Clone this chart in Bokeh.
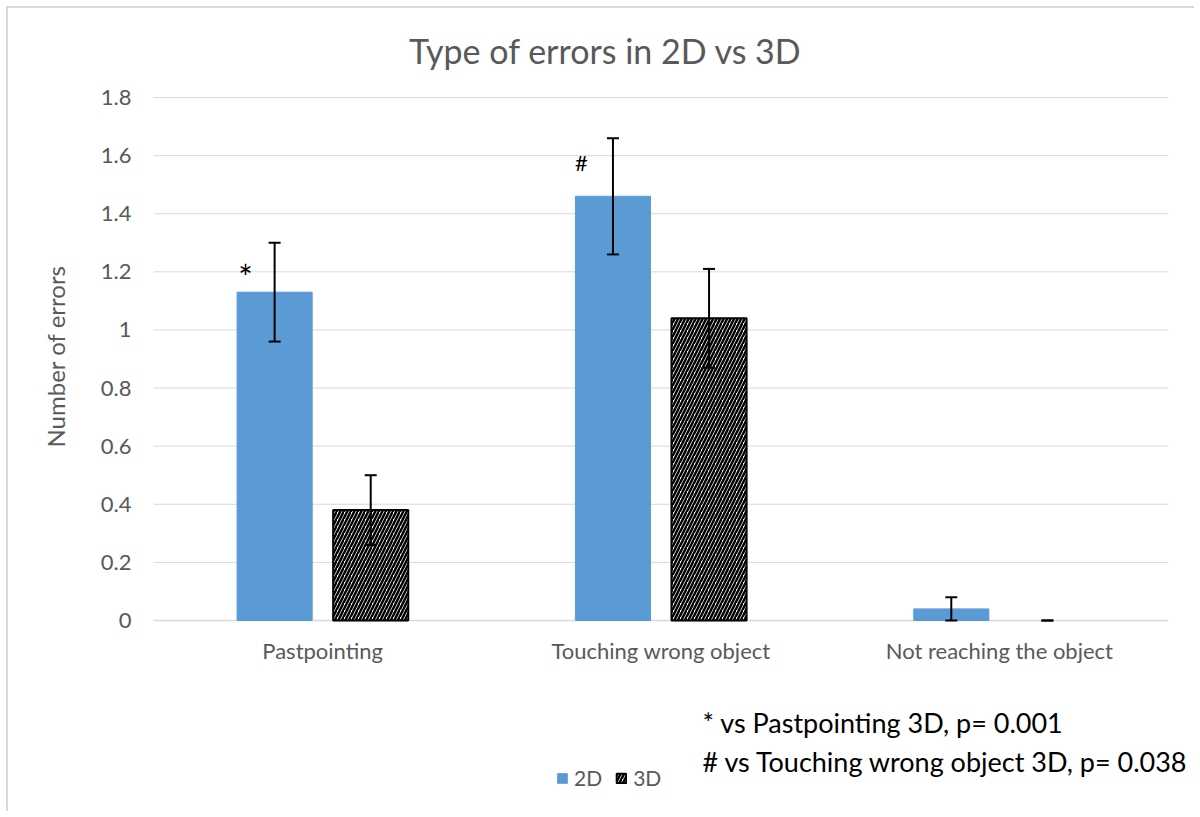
from bokeh.plotting import figure
from bokeh.models import (ColumnDataSource, Whisker, TeeHead, Label, Legend, LegendItem,
                          FixedTicker, Range1d, Title)
from bokeh.core.properties import value
from bokeh.embed import file_html
from bokeh.resources import INLINE

categories = ["Pastpointing", "Touching wrong object", "Not reaching the object"]
values_2d = [1.13, 1.46, 0.04]
err_low_2d = [0.96, 1.26, 0.0]
err_high_2d = [1.30, 1.66, 0.08]
values_3d = [0.38, 1.04, 0.0]
err_low_3d = [0.26, 0.87, 0.0]
err_high_3d = [0.50, 1.21, 0.0]
y_ticks = [0, 0.2, 0.4, 0.6, 0.8, 1.0, 1.2, 1.4, 1.6, 1.8]
y_tick_labels = ["0", "0.2", "0.4", "0.6", "0.8", "1", "1.2", "1.4", "1.6", "1.8"]
title_text = "Type of errors in 2D vs 3D"
y_label = "Number of errors"
series_names = ["2D", "3D"]
notes = ["* vs Pastpointing 3D, p= 0.001", "# vs Touching wrong object 3D, p= 0.038"]

FONT = "Lato"
GRAY = "#595959"
BLUE = "#5b9bd5"
GRID = "#d9d9d9"

# ---- layout geometry (page pixels) ----
W, H = 1188, 805
ORG_X, ORG_Y = 8, 8
PX_L, PX_R = 153, 1168          # category area columns
PX_Y0, PX_YMAX = 620, 97        # value 0 and value 1.8
MB_TOP = 4
frame_top = ORG_Y + MB_TOP
frame_bot = ORG_Y + H
frame_right = ORG_X + W
ppu_y = (PX_Y0 - PX_YMAX) / 1.8
ppu_x = (PX_R - PX_L) / 3.0


def dy(py):
    return (PX_Y0 - py) / ppu_y


def dx(px):
    return (px - PX_L) / ppu_x


n = len(categories)
centers = [i + 0.5 for i in range(n)]
off = 0.142
bw = 0.222

src2 = ColumnDataSource(dict(x=[c - off for c in centers], top=values_2d,
                             lo=err_low_2d, hi=err_high_2d))
src3 = ColumnDataSource(dict(x=[c + off for c in centers], top=values_3d,
                             lo=err_low_3d, hi=err_high_3d,
                             lc=["black" if v > 0 else None for v in values_3d]))

p = figure(width=W, height=H, x_range=Range1d(0, dx(frame_right)),
           y_range=Range1d(dy(frame_bot), dy(frame_top)),
           output_backend="svg", toolbar_location=None, x_axis_location=None,
           min_border_left=PX_L - ORG_X, min_border_right=0,
           min_border_top=MB_TOP, min_border_bottom=0)
p.styles = {"border-left": "2px solid #d9d9d9", "border-top": "2px solid #d9d9d9",
            "margin-left": "6px", "margin-top": "6px"}
p.outline_line_color = None
p.background_fill_color = "white"
p.border_fill_color = "white"
p.xgrid.visible = False
p.ygrid.visible = False

# horizontal gridlines across the category area only
grid_ticks = y_ticks[1:]
p.segment(x0=[0] * len(grid_ticks), x1=[n] * len(grid_ticks), y0=grid_ticks,
          y1=grid_ticks, line_color=GRID, line_width=1)
# category axis line at zero
p.segment(x0=[0], x1=[n], y0=[0], y1=[0], line_color=GRID, line_width=1.5)

r2 = p.vbar(x="x", top="top", width=bw, source=src2, fill_color=BLUE,
            line_color=BLUE, line_width=1)
r3 = p.vbar(x="x", top="top", width=bw, source=src3, fill_color="white",
            line_color="lc", line_width=2, hatch_pattern="/",
            hatch_color="black", hatch_scale=7, hatch_weight=2.5)

for s in (src2, src3):
    w = Whisker(source=s, base="x", lower="lo", upper="hi", line_color="black",
                line_width=2, level="overlay",
                upper_head=TeeHead(size=12, line_color="black", line_width=2),
                lower_head=TeeHead(size=12, line_color="black", line_width=2))
    p.add_layout(w)

# y axis
p.yaxis.ticker = FixedTicker(ticks=y_ticks)
p.yaxis.major_label_overrides = {t: l for t, l in zip(y_ticks, y_tick_labels)}
p.yaxis.axis_line_color = None
p.yaxis.major_tick_line_color = None
p.yaxis.major_tick_out = 0
p.yaxis.major_tick_in = 0
p.yaxis.minor_tick_line_color = None
p.yaxis.major_label_text_font = FONT
p.yaxis.major_label_text_font_size = "22px"
p.yaxis.major_label_text_color = GRAY
p.yaxis.major_label_standoff = 22

p.add_layout(Title(text=y_label, align="left", offset=frame_bot - 447,
                   text_font=FONT, text_font_size="24px", text_font_style="normal",
                   text_color=GRAY, standoff=56), "left")

# category labels
p.text(x=centers, y=[dy(650)] * n, text=categories, text_align="center",
       text_baseline="middle", text_font=value(FONT), text_font_size="22px",
       text_color=GRAY)

# title
p.add_layout(Label(x=dx(605), y=dy(50), text=title_text, text_align="center",
                   text_baseline="middle", text_font=FONT, text_font_size="34px",
                   text_color=GRAY))

# significance markers
p.add_layout(Label(x=dx(245), y=dy(276), text="*", text_align="center",
                   text_baseline="middle", text_font=FONT, text_font_size="34px",
                   text_color="black"))
p.add_layout(Label(x=dx(581), y=dy(162), text="#", text_align="center",
                   text_baseline="middle", text_font=FONT, text_font_size="22px",
                   text_color="black"))

# notes
for i, t in enumerate(notes):
    p.add_layout(Label(x=dx(702), y=dy(722 + 39 * i), text=t, text_align="left",
                       text_baseline="middle", text_font=FONT, text_font_size="27px",
                       text_color="black"))

legend = Legend(items=[LegendItem(label=series_names[0], renderers=[r2]),
                       LegendItem(label=series_names[1], renderers=[r3])],
                orientation="horizontal", location=(557 - PX_L - 1, frame_bot - 790),
                label_text_font=FONT, label_text_font_size="21px",
                label_text_color=GRAY, glyph_width=12, glyph_height=12,
                label_standoff=6, spacing=13, padding=4,
                border_line_color=None, background_fill_alpha=0)
p.add_layout(legend, "center")

open("out.html", "w").write(file_html(p, INLINE))
